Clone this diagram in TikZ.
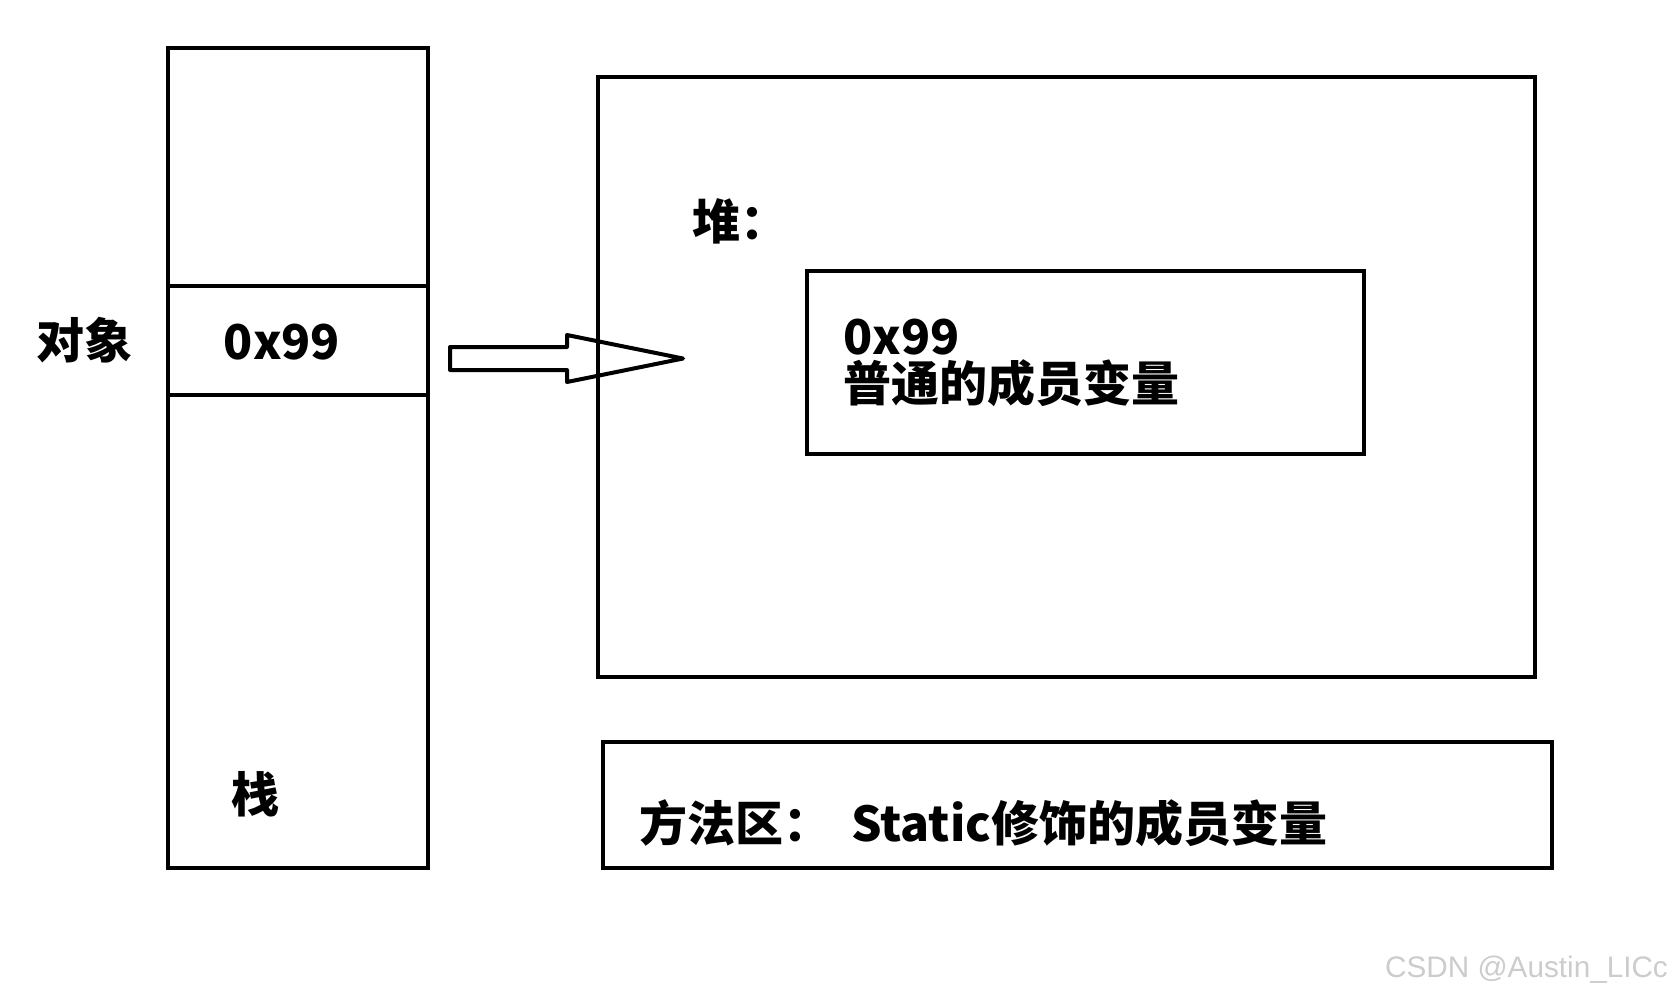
\documentclass[tikz,border=0pt]{standalone}
\usepackage{fontspec}
\newfontfamily\cjk{Noto Sans CJK SC}
\newfontfamily\wmfont{Liberation Sans}
\usetikzlibrary{positioning}

\begin{document}
\begin{tikzpicture}[x=1pt, y=-1pt,
        box/.style = {draw, line width=4pt, inner sep=0pt},
        lbl/.style = {font=\cjk\bfseries\fontsize{48}{47}\selectfont, inner sep=0pt},
        blk/.style = {draw, line width=4pt, line join=round},
        wm/.style  = {font=\wmfont\fontsize{29.7}{30}\selectfont, text=gray!40, inner sep=0pt}
    ]
        \useasboundingbox (0,0) rectangle (1675,994);

        % stack
        \node[box, minimum width=260pt, minimum height=820pt] (stack) at (298,458)   {};
        \node[box, minimum width=260pt, minimum height=109pt] (cell)  at (298,340.5) {};
        \node[lbl] (cellval) at (282,342) {0x99};
        \node[lbl, left=33pt of cell] (objlbl) {对象};
        \node[lbl] (stacklbl) at (255,794) {栈};

        % pointer arrow
        \coordinate (ptr) at (450,358.5);
        \coordinate (tip) at (683,358.5);
        \draw[blk] (ptr) ++(0,-11.5) -- ++(117,0) -- ++(0,-12) -- (tip)
            -- ++(-116,23.5) -- ++(0,-12) -- ++(-117,0) -- cycle;

        % heap
        \node[box, minimum width=937pt, minimum height=600pt] (heap) at (1066.5,377) {};
        \node[lbl, anchor=west] (heaplbl) at (692,221) {堆：};
        \node[box, minimum width=557pt, minimum height=183pt] (obj) at (1085.5,362.5) {};
        \node[lbl, anchor=north west, align=left] (objtxt) at (843,319) {0x99\\普通的成员变量};

        % method area
        \node[box, minimum width=949pt, minimum height=126pt] (method) at (1077.5,805) {};
        \node[lbl, anchor=west] (methodtxt) at (639,823) {方法区：\hspace{0.42em}Static修饰的成员变量};

        \node[wm, anchor=base west] (wmark) at (1385,977) {CSDN @Austin\_LICc};
    \end{tikzpicture}
\end{document}
